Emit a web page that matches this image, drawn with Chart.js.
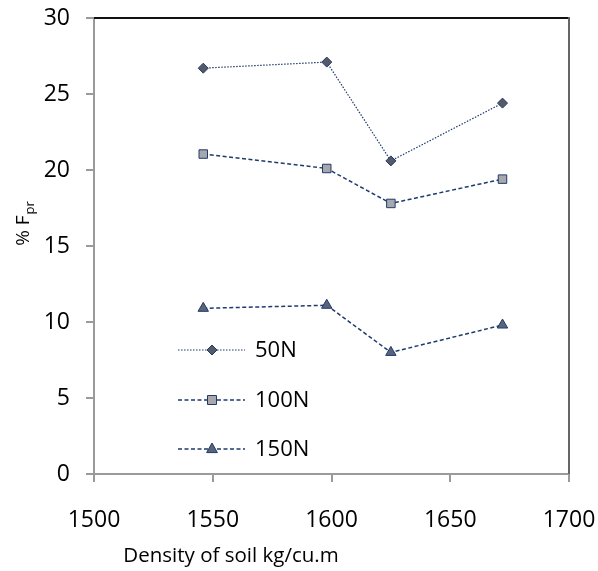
<!DOCTYPE html>
<html>
<head>
<meta charset="utf-8">
<script src="https://cdn.jsdelivr.net/npm/chart.js@4/dist/chart.umd.min.js"></script>
<style>
  html, body { margin: 0; padding: 0; background: #fff; }
  #wrap { width: 598px; height: 571px; }
</style>
</head>
<body>
<div id="wrap"><canvas id="chart" width="598" height="571"></canvas></div>
<script>
// values
const densities = [1546, 1598, 1625, 1672];
const f50 = [26.7, 27.1, 20.6, 24.4];
const f100 = [21.05, 20.1, 17.8, 19.4];
const f150 = [10.9, 11.1, 8.0, 9.8];
const seriesNames = ['50N', '100N', '150N'];
const xTicks = [1500, 1550, 1600, 1650, 1700];
const yTicks = [0, 5, 10, 15, 20, 25, 30];

const FONT = "'Open Sans', 'Liberation Sans', sans-serif";
const NAVY = '#1f3a6e';

function toPoints(ys) {
    return densities.map((x, i) => ({ x: x, y: ys[i] }));
}

// border box on top/right, legend inside the plot, axis titles
const extras = {
    id: 'extras',
    afterDraw(chart) {
        const ctx = chart.ctx;
        const a = chart.chartArea;
        ctx.save();
        // top + right frame
        ctx.lineWidth = 2;
        ctx.strokeStyle = '#111';
        ctx.beginPath();
        ctx.moveTo(a.left, a.top);
        ctx.lineTo(a.right, a.top);
        ctx.stroke();
        ctx.strokeStyle = '#666';
        ctx.beginPath();
        ctx.moveTo(a.right, a.top - 1);
        ctx.lineTo(a.right, a.bottom);
        ctx.stroke();

        // legend
        const rowY = [350, 400, 449];
        chart.data.datasets.forEach((ds, i) => {
            const y = rowY[i];
            ctx.strokeStyle = ds.borderColor;
            ctx.lineWidth = ds.borderWidth;
            ctx.setLineDash(ds.borderDash || []);
            ctx.beginPath();
            ctx.moveTo(178, y);
            ctx.lineTo(245, y);
            ctx.stroke();
            ctx.setLineDash([]);
            drawMarker(ctx, ds.pointStyle, 212, y, ds.pointRadius, ds.pointBackgroundColor, ds.pointBorderColor);
            ctx.fillStyle = '#000';
            ctx.font = '22px ' + FONT;
            ctx.textAlign = 'left';
            ctx.textBaseline = 'middle';
            ctx.fillText(ds.label, 255, y + 1);
        });

        // x title
        ctx.fillStyle = '#000';
        ctx.font = '20.5px ' + FONT;
        ctx.textAlign = 'center';
        ctx.textBaseline = 'middle';
        ctx.fillText('Density of soil kg/cu.m', 231, 556);

        // y title with subscript
        ctx.translate(22, 224);
        ctx.rotate(-Math.PI / 2);
        ctx.textAlign = 'left';
        ctx.textBaseline = 'alphabetic';
        ctx.font = '19px ' + FONT;
        const main = '% F';
        const w = ctx.measureText(main).width;
        ctx.font = '13px ' + FONT;
        const ws = ctx.measureText('pr').width;
        const x0 = -(w + ws) / 2;
        ctx.font = '19px ' + FONT;
        ctx.fillText(main, x0, 7);
        ctx.font = '13px ' + FONT;
        ctx.fillText('pr', x0 + w + 1, 12);
        ctx.restore();
    }
};

function drawMarker(ctx, style, x, y, r, fill, stroke) {
    ctx.save();
    ctx.fillStyle = fill;
    ctx.strokeStyle = stroke;
    ctx.lineWidth = 1;
    ctx.beginPath();
    if (style === 'rectRot') {
        ctx.moveTo(x, y - r); ctx.lineTo(x + r, y); ctx.lineTo(x, y + r); ctx.lineTo(x - r, y);
    } else if (style === 'rect') {
        ctx.rect(x - r * 0.75, y - r * 0.75, r * 1.5, r * 1.5);
    } else {
        ctx.moveTo(x, y - r); ctx.lineTo(x + r * 0.9, y + r * 0.6); ctx.lineTo(x - r * 0.9, y + r * 0.6);
    }
    ctx.closePath();
    ctx.fill();
    ctx.stroke();
    ctx.restore();
}

new Chart(document.getElementById('chart'), {
    type: 'line',
    data: {
        datasets: [{
            label: seriesNames[0],
            data: toPoints(f50),
            borderColor: NAVY,
            borderWidth: 1.2,
            borderDash: [1.5, 1.5],
            pointStyle: 'rectRot',
            pointRadius: 5,
            pointBackgroundColor: '#555a66',
            pointBorderColor: NAVY,
            pointBorderWidth: 1,
            fill: false,
            tension: 0
        }, {
            label: seriesNames[1],
            data: toPoints(f100),
            borderColor: NAVY,
            borderWidth: 1.5,
            borderDash: [4, 2.5],
            pointStyle: 'rect',
            pointRadius: 6,
            pointBackgroundColor: '#a8a8ac',
            pointBorderColor: NAVY,
            pointBorderWidth: 1,
            fill: false,
            tension: 0
        }, {
            label: seriesNames[2],
            data: toPoints(f150),
            borderColor: NAVY,
            borderWidth: 1.5,
            borderDash: [4, 2.5],
            pointStyle: 'triangle',
            pointRadius: 6,
            pointBackgroundColor: '#5a6478',
            pointBorderColor: NAVY,
            pointBorderWidth: 1,
            fill: false,
            tension: 0
        }]
    },
    options: {
        responsive: false,
        animation: false,
        layout: { autoPadding: false, padding: { top: 18, right: 29, left: 0, bottom: 0 } },
        plugins: {
            legend: { display: false },
            tooltip: { enabled: false }
        },
        scales: {
            x: {
                type: 'linear',
                min: xTicks[0],
                max: xTicks[xTicks.length - 1],
                afterBuildTicks: s => { s.ticks = xTicks.map(v => ({ value: v })); },
                afterFit: s => { s.height = 97; s.paddingLeft = 0; s.paddingRight = 0; },
                border: { color: '#9a9a9a', width: 2 },
                grid: { drawOnChartArea: false, drawTicks: true, tickLength: 8, color: '#9a9a9a', lineWidth: 2 },
                ticks: { color: '#000', font: { family: FONT, size: 23 }, padding: 25, maxRotation: 0,
                         callback: v => String(v) }
            },
            y: {
                type: 'linear',
                min: yTicks[0],
                max: yTicks[yTicks.length - 1],
                afterBuildTicks: s => { s.ticks = yTicks.map(v => ({ value: v })); },
                afterFit: s => { s.width = 94; s.paddingTop = 0; s.paddingBottom = 0; },
                border: { color: '#9a9a9a', width: 2 },
                grid: { drawOnChartArea: false, drawTicks: true, tickLength: 8, color: '#9a9a9a', lineWidth: 2 },
                ticks: { color: '#000', font: { family: FONT, size: 23 }, padding: 16,
                         callback: v => String(v) }
            }
        }
    },
    plugins: [extras]
});
</script>
</body>
</html>
